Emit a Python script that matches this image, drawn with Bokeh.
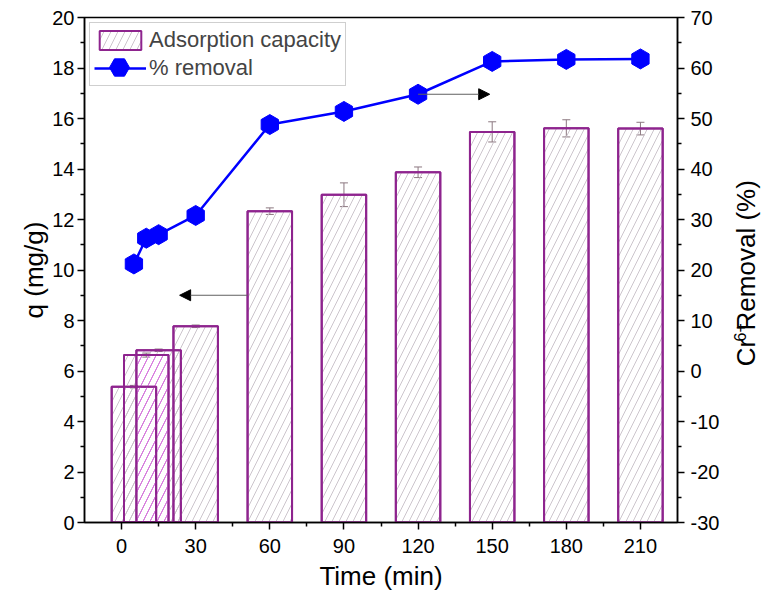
import math
from bokeh.plotting import figure
from bokeh.layouts import row
from bokeh.core.properties import value
from bokeh.models import (Range1d, LinearAxis, Whisker, TeeHead, Arrow, NormalHead,
                          ColumnDataSource, Legend, LegendItem, FixedTicker)
from bokeh.embed import file_html
from bokeh.resources import INLINE

# Adsorption kinetics of Cr(VI): capacity (bars) and removal (line)
time_min = [5, 10, 15, 30, 60, 90, 120, 150, 180, 210]
q_mg_g = [5.38, 6.63, 6.82, 7.77, 12.33, 12.98, 13.87, 15.47, 15.61, 15.60]
q_err = [0.05, 0.08, 0.05, 0.05, 0.13, 0.47, 0.21, 0.40, 0.34, 0.25]
removal_pct = [21.2, 26.3, 27.0, 30.8, 48.8, 51.4, 54.8, 61.3, 61.7, 61.8]

time_ticks = [0, 30, 60, 90, 120, 150, 180, 210]
time_minor = [15, 45, 75, 105, 135, 165, 195]
q_ticks = [0, 2, 4, 6, 8, 10, 12, 14, 16, 18, 20]
q_minor = [1, 3, 5, 7, 9, 11, 13, 15, 17, 19]
pct_ticks = [-30, -20, -10, 0, 10, 20, 30, 40, 50, 60, 70]
pct_minor = [-25, -15, -5, 5, 15, 25, 35, 45, 55, 65]

BAR_W = 18
PURPLE = "#8e248e"
BLUE = "#0000ff"
FONT = "Liberation Sans"
TITLE_PX = 26
SUP_PX = 16
HATCH = dict(hatch_pattern="/", hatch_scale=14, hatch_weight=0.9)

TOTAL_W, TOTAL_H = 769, 599
SIDE_W = 39
BORDER_L, BORDER_R, BORDER_T, BORDER_B = 84, 53, 17, 77
FRAME_H = TOTAL_H - BORDER_T - BORDER_B

src = ColumnDataSource(dict(
    t=time_min, q=q_mg_g, pct=removal_pct,
    lo=[v - e for v, e in zip(q_mg_g, q_err)],
    hi=[v + e for v, e in zip(q_mg_g, q_err)],
))

p = figure(width=TOTAL_W - SIDE_W, height=TOTAL_H, output_backend="svg", toolbar_location=None,
           x_range=Range1d(-15, 225), y_range=Range1d(0, 20),
           min_border_left=BORDER_L, min_border_right=BORDER_R,
           min_border_top=BORDER_T, min_border_bottom=BORDER_B)
p.extra_y_ranges = {"pct": Range1d(-30, 70)}
p.xgrid.visible = False
p.ygrid.visible = False
p.outline_line_color = "black"
p.outline_line_width = 1.5
p.background_fill_color = "white"
p.border_fill_color = "white"

bars = p.vbar(x="t", top="q", width=BAR_W, bottom=0, source=src,
              fill_color=None, line_color=PURPLE, line_width=2,
              hatch_color="#c6bec6", **HATCH)

# region shared by the 10 and 15 min bars
p.quad(left=[time_min[2] - BAR_W / 2], right=[time_min[1] + BAR_W / 2],
       bottom=[0], top=[min(q_mg_g[1], q_mg_g[2])],
       fill_color=None, line_color=None, hatch_color="#e060ea", **HATCH)

# bar outlines again so they sit above the hatching
p.vbar(x="t", top="q", width=BAR_W, bottom=0, source=src,
       fill_color=None, line_color=PURPLE, line_width=2)

err_col = "#8c7880"
p.add_layout(Whisker(source=src, base="t", lower="lo", upper="hi",
                     line_color=err_col, line_width=1,
                     upper_head=TeeHead(size=8, line_color=err_col, line_width=1),
                     lower_head=TeeHead(size=8, line_color=err_col, line_width=1)))

line = p.line("t", "pct", source=src, y_range_name="pct", line_color=BLUE, line_width=2.5)
pts = p.scatter("t", "pct", source=src, y_range_name="pct", marker="hex", size=20,
                angle=math.pi / 6, fill_color=BLUE, line_color=BLUE)

# pointer arrows towards the matching axes
p.add_layout(Arrow(x_start=time_min[4] - BAR_W / 2, y_start=9.0, x_end=23.5, y_end=9.0,
                   line_color="#606060", line_width=1,
                   end=NormalHead(size=11, fill_color="black", line_color="black")))
p.add_layout(Arrow(x_start=time_min[6], y_start=removal_pct[6], x_end=149, y_end=removal_pct[6],
                   y_range_name="pct", line_color="#606060", line_width=1,
                   end=NormalHead(size=11, fill_color="black", line_color="black")))


def style_axis(ax, label):
    ax.axis_label = label
    ax.axis_label_text_font = FONT
    ax.axis_label_text_font_size = f"{TITLE_PX}px"
    ax.axis_label_text_font_style = "normal"
    ax.axis_label_text_color = "black"
    ax.major_label_text_font = FONT
    ax.major_label_text_font_size = "20px"
    ax.major_label_text_color = "black"
    ax.axis_line_width = 1.5
    ax.axis_line_color = "black"
    ax.major_tick_line_width = 1.5
    ax.minor_tick_line_width = 1.5
    ax.major_tick_in = 0
    ax.major_tick_out = 7
    ax.minor_tick_in = 0
    ax.minor_tick_out = 4


p.xaxis.ticker = FixedTicker(ticks=time_ticks, minor_ticks=time_minor)
style_axis(p.xaxis[0], "Time (min)")
p.xaxis.major_label_standoff = 9
p.xaxis.axis_label_standoff = 5
p.yaxis.ticker = FixedTicker(ticks=q_ticks, minor_ticks=q_minor)
style_axis(p.yaxis[0], "q (mg/g)")
p.yaxis.major_label_standoff = 3
p.yaxis.axis_label_standoff = 0

right = LinearAxis(y_range_name="pct", ticker=FixedTicker(ticks=pct_ticks, minor_ticks=pct_minor))
style_axis(right, None)
right.major_label_standoff = 6
right.major_label_overrides = {t: str(t) for t in pct_ticks if t < 0}
p.add_layout(right, "right")

legend = Legend(items=[LegendItem(label="Adsorption capacity", renderers=[bars]),
                       LegendItem(label="% removal", renderers=[line])],
                location="top_left", margin=5, padding=4, spacing=2,
                glyph_width=52, glyph_height=24, label_standoff=3,
                label_text_font=FONT, label_text_font_size="22px",
                border_line_color="#a0a0a0", border_line_width=1,
                background_fill_color="white", background_fill_alpha=1)
p.add_layout(legend)

# full-size hexagon drawn over the "% removal" legend line
marker_key = Legend(items=[LegendItem(label=" ", renderers=[pts])],
                    location=(10, 430), margin=0, padding=0, spacing=0,
                    glyph_width=50, glyph_height=50, label_standoff=0,
                    label_text_font_size="1px",
                    border_line_color=None, background_fill_alpha=0)
p.add_layout(marker_key)

# narrow strip on the right carrying the rotated title with a raised "6+"
side = figure(width=SIDE_W, height=TOTAL_H, output_backend="svg", toolbar_location=None,
              x_range=Range1d(0, SIDE_W), y_range=Range1d(0, TOTAL_H),
              x_axis_location=None, y_axis_location=None,
              min_border_left=0, min_border_right=0, min_border_top=0, min_border_bottom=0)
side.xgrid.visible = False
side.ygrid.visible = False
side.outline_line_color = None
side.background_fill_color = "white"
side.border_fill_color = "white"

em = {"C": .722, "r": .333, "6": .556, "+": .584, " ": .278, "R": .722, "e": .556,
      "m": .833, "o": .556, "v": .5, "a": .556, "l": .222, "(": .333, "%": .889, ")": .333}


def run_len(txt, fs):
    return fs * sum(em[c] for c in txt)


# (text, size, x centre, gap before); each run is centred on its own slot
title_parts = [("Cr", TITLE_PX, 15.5, 0.0),
               ("6+", SUP_PX, 9.0, 1.0),
               ("Removal (%)", TITLE_PX, 15.5, run_len(" ", TITLE_PX))]
total = sum(run_len(t, fs) + gap for t, fs, _, gap in title_parts)
centre_y = TOTAL_H - BORDER_T - FRAME_H / 2 - 39.5
pos = centre_y - total / 2
for txt, fs, cx, gap in title_parts:
    pos += gap
    w = run_len(txt, fs)
    side.text(x=[cx], y=[pos + w / 2], text=[txt], angle=math.pi / 2,
              text_align="center", text_baseline="middle",
              text_font=value(FONT), text_font_size=f"{fs}px", text_color="black")
    pos += w

layout = row(p, side, spacing=0)
open("out.html", "w").write(file_html(layout, INLINE))
